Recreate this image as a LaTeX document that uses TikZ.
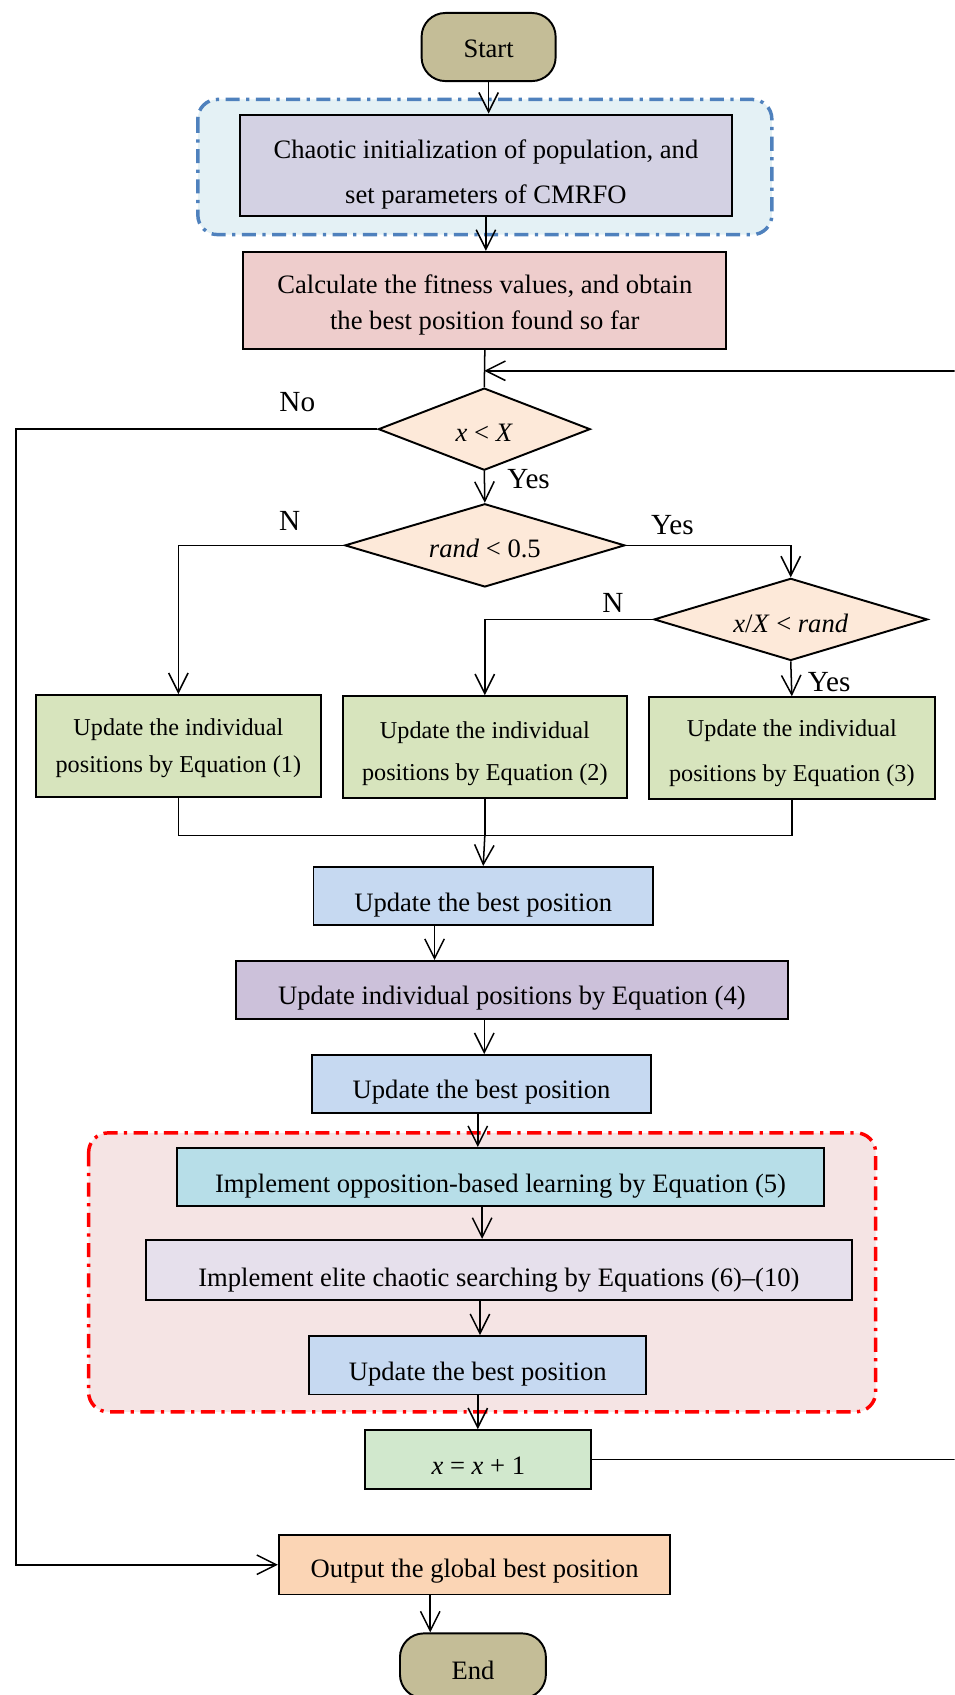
\documentclass[tikz,border=0pt]{standalone}
\usepackage{fontspec}
\setmainfont{Liberation Serif}
\usetikzlibrary{shapes.geometric,arrows.meta}
\definecolor{startc}{HTML}{C4BD97}
\definecolor{bluebg}{HTML}{E4F1F5}
\definecolor{bluedash}{HTML}{4F81BD}
\definecolor{initc}{HTML}{D3D1E3}
\definecolor{fitc}{HTML}{EECDCC}
\definecolor{diac}{HTML}{FDE9D9}
\definecolor{eqc}{HTML}{D7E4BD}
\definecolor{bestc}{HTML}{C6D9F1}
\definecolor{efourc}{HTML}{CCC1DA}
\definecolor{redbg}{HTML}{F5E4E4}
\definecolor{oblc}{HTML}{B7DEE8}
\definecolor{ecsc}{HTML}{E6E0EC}
\definecolor{incc}{HTML}{D1E8CD}
\definecolor{outc}{HTML}{FBD5B5}
\newcommand\mfont{\fontsize{12.3}{14.8}\selectfont}
\newcommand\sfont{\fontsize{11.2}{13.4}\selectfont}
\newcommand\lfont{\fontsize{13.5}{16}\selectfont}
\newcommand\dn[1]{\rule{0pt}{\dimexpr0.7em+#1\relax}}
\begin{document}
\begin{tikzpicture}[x=0.5pt,y=-0.5pt,
  every node/.style={font=\mfont},
  box/.style={draw, line width=0.9pt, inner sep=0pt, align=center},
  term/.style={box, rounded corners=11pt, fill=startc},
  dia/.style={draw, line width=0.9pt, shape=diamond, inner sep=0pt, fill=diac, align=center},
  conn/.style={line width=0.7pt},
  arr/.style={conn, -{Straight Barb[length=9pt,width=9pt]}},
  lbl/.style={font=\lfont, inner sep=0pt},
  group/.style={line width=1.6pt, rounded corners=9pt, dash pattern=on 6.5pt off 3pt on 1.5pt off 3pt}]
\clip (0,0) rectangle (883,1568);

% containers
\draw[group, draw=bluedash, fill=bluebg] (183,92) rectangle (714,217);
\draw[group, draw=red, fill=redbg] (82,1048) rectangle (810,1306);

% nodes
\node[term, minimum width=62pt, minimum height=31.5pt] (start) at (452,43.5) {\dn{1pt}Start};
\node[box, fill=initc, minimum width=227.5pt, minimum height=47pt] (init) at (449.5,153)
  {\dn{8pt}Chaotic initialization of population, and\\[6pt] set parameters of CMRFO};
\node[box, fill=fitc, minimum width=223.5pt, minimum height=45pt] (fit) at (448.5,278)
  {\dn{4pt}Calculate the fitness values, and obtain\\[2pt] the best position found so far};
\node[dia, aspect=2.58, minimum width=98pt, minimum height=38pt] (d1) at (448,397)
  {\dn{3pt}\textit{x} < \textit{X}};
\node[dia, aspect=3.36, minimum width=129.5pt, minimum height=38.5pt] (d2) at (448.5,504.5)
  {\dn{3pt}\textit{rand} < 0.5};
\node[dia, aspect=3.33, minimum width=126.5pt, minimum height=38pt] (d3) at (731.5,573)
  {\dn{4pt}\textit{x}/\textit{X} < \textit{rand}};
\node[box, fill=eqc, minimum width=132pt, minimum height=47pt, font=\sfont] (e1) at (165,690)
  {\dn{2pt}Update the individual\\[3.5pt] positions by Equation (1)};
\node[box, fill=eqc, minimum width=131.5pt, minimum height=47pt, font=\sfont] (e2) at (448.5,691)
  {\dn{6pt}Update the individual\\[6pt] positions by Equation (2)};
\node[box, fill=eqc, minimum width=132.5pt, minimum height=47pt, font=\sfont] (e3) at (732.5,692)
  {\dn{5pt}Update the individual\\[7.5pt] positions by Equation (3)};
\node[box, fill=bestc, minimum width=157pt, minimum height=27pt] (b1) at (447,829)
  {\dn{8pt}Update the best position};
\node[box, fill=efourc, minimum width=255.5pt, minimum height=27pt] (e4) at (473.5,916)
  {\dn{7pt}Update individual positions by Equation (4)};
\node[box, fill=bestc, minimum width=156.5pt, minimum height=27pt] (b2) at (445.5,1003)
  {\dn{7pt}Update the best position};
\node[box, fill=oblc, minimum width=299pt, minimum height=27pt] (obl) at (463,1089)
  {\dn{8pt}Implement opposition-based learning by Equation (5)};
\node[box, fill=ecsc, minimum width=326.5pt, minimum height=28pt] (ecs) at (461.5,1175)
  {\dn{9pt}Implement elite chaotic searching by Equations (6)–(10)};
\node[box, fill=bestc, minimum width=156pt, minimum height=27pt] (b3) at (442,1263)
  {\dn{8pt}Update the best position};
\node[box, fill=incc, minimum width=104.5pt, minimum height=27pt] (inc) at (442.5,1350)
  {\dn{5pt}\textit{x} = \textit{x} + 1};
\node[box, fill=outc, minimum width=181pt, minimum height=27.5pt] (out) at (439,1447.5)
  {\dn{6pt}Output the global best position};
\node[term, minimum width=67.5pt, minimum height=30pt] (end) at (437.5,1541) {\dn{4pt}End};

% labels
\node[lbl] (lno) at (275,372) {No};
\node[lbl] (lyes1) at (489,443) {Yes};
\node[lbl] (ln1) at (268,482) {N};
\node[lbl] (lyes2) at (622,486) {Yes};
\node[lbl] (ln2) at (567,558) {N};
\node[lbl] (lyes3) at (767,631) {Yes};

% helper coordinates
\coordinate (loopTop) at (890,343);
\coordinate (loopBot) at (890,1350);
\coordinate (leftTop) at (15,397);
\coordinate (leftBot) at (15,1447.5);
\coordinate (d2L) at (165,504.5);
\coordinate (d2R) at (731.5,504.5);
\coordinate (d3L) at (448.5,573);
\coordinate (mergeL) at (165,773);
\coordinate (mergeM) at (448.5,773);
\coordinate (mergeR) at (732.5,773);
\coordinate (x402) at (402,0);
\coordinate (x448) at (448,0);
\coordinate (x442) at (442,0);
\coordinate (x446) at (446,0);
\coordinate (x444) at (444,0);
\coordinate (x398) at (398,0);

% connectors
\draw[arr] (start.south) -- (start.south |- init.north);
\draw[arr] (init.south) -- (init.south |- fit.north);
\draw[conn] (fit.south) -- (d1.north);
\draw[arr] (inc.east) -- (loopBot) -- (loopTop) -- (loopTop -| d1.north);
\draw[arr] (d1.west) -- (leftTop) -- (leftBot) -- (out.west);
\draw[arr] (d1.south) -- (d2.north);
\draw[arr] (d2.west) -- (d2L) -- (e1.north);
\draw[arr] (d2.east) -- (d2R) -- (d3.north);
\draw[arr] (d3.west) -- (d3L) -- (e2.north);
\draw[arr] (d3.south) -- (e3.north);
\draw[conn] (e1.south) -- (mergeL) -- (mergeR) -- (e3.south);
\draw[conn] (e2.south) -- (mergeM);
\draw[arr] (mergeM) -- (b1.north);
\draw[arr] (b1.south -| x402) -- (e4.north -| x402);
\draw[arr] (e4.south -| x448) -- (b2.north -| x448);
\draw[arr] (b2.south -| x442) -- (obl.north -| x442);
\draw[arr] (obl.south -| x446) -- (ecs.north -| x446);
\draw[arr] (ecs.south -| x444) -- (b3.north -| x444);
\draw[arr] (b3.south -| x442) -- (inc.north -| x442);
\draw[arr] (out.south -| x398) -- (end.north -| x398);
\end{tikzpicture}
\end{document}
